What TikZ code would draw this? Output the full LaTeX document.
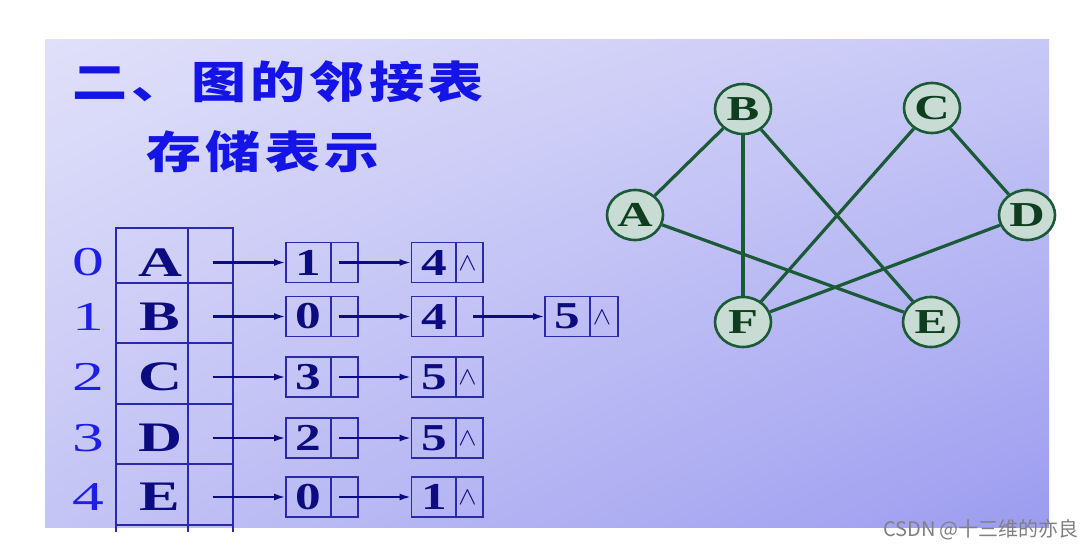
\documentclass[tikz,border=0pt]{standalone}
\usepackage{fontspec}
\setmainfont{Liberation Serif}
\newfontfamily\cjk{Noto Sans CJK SC}
\newfontfamily\ttlf{Noto Sans CJK SC}[FakeStretch=1.25,LetterSpace=10]
\newfontfamily\idxf{Liberation Serif}[FakeStretch=1.55]
\newfontfamily\vtxf{Liberation Serif}[FakeStretch=1.45]
\newfontfamily\datf{Liberation Serif}[FakeStretch=1.35]
\newfontfamily\grf{Liberation Serif}[FakeStretch=1.4]
\usetikzlibrary{arrows.meta,shapes.geometric,shadings}
\definecolor{titleblue}{HTML}{1414E6}
\definecolor{idxblue}{HTML}{1E1EE6}
\definecolor{navy}{HTML}{0C0C80}
\definecolor{boxline}{HTML}{2A2AA8}
\definecolor{gfill}{HTML}{C8DCD4}
\definecolor{gline}{HTML}{1A5A36}
\definecolor{gtext}{HTML}{0E3E1E}
\definecolor{bgA}{HTML}{E0E0FA}
\definecolor{bgB}{HTML}{C8C8F6}
\definecolor{bgC}{HTML}{C4C4F5}
\definecolor{bgD}{HTML}{9C9CF0}
\begin{document}
\begin{tikzpicture}[x=1pt,y=-1pt,
  vcell/.style={draw=boxline, line width=1.6pt, inner sep=0pt, outer sep=0pt},
  cell/.style={vcell, minimum height=40pt, font=\datf\bfseries\fontsize{38}{38}\selectfont, text=navy},
  dcell/.style={cell, minimum width=45pt},
  pcell/.style={cell, minimum width=27pt},
  ptr/.style={draw=navy, line width=2.3pt, -{Latex[length=12pt,width=7pt]}},
  vert/.style={inner sep=0pt, font=\vtxf\bfseries\fontsize{42}{42}\selectfont, text=navy},
  idx/.style={inner sep=0pt, font=\idxf\fontsize{41}{41}\selectfont, text=idxblue},
  nil/.style={inner sep=0pt, font=\fontsize{40}{40}\selectfont, text=navy, xscale=1.1},
  ttl/.style={anchor=west, inner sep=0pt, font=\ttlf\bfseries\fontsize{44}{44}\selectfont, text=titleblue},
  gnode/.style={ellipse, draw=gline, fill=gfill, line width=2.6pt, minimum width=56pt, minimum height=50pt, inner sep=0pt, font=\grf\bfseries\fontsize{35}{35}\selectfont, text=gtext},
  gedge/.style={draw=gline, line width=3.2pt},
]
\useasboundingbox (0,0) rectangle (1092,551);
\fill[white] (0,0) rectangle (1092,551);
\shade[upper left=bgA, upper right=bgB, lower left=bgC, lower right=bgD] (45,40) rectangle (1049,527);

% title
\node[ttl] (t1) at (72,82) {二、图的邻接表};
\node[ttl] (t2) at (146,152) {存储表示};

% vertex table
\foreach \r/\top/\bot/\yy/\L in {0/228/283/262.5/A,1/283/343/316.5/B,2/343/404/377/C,3/404/464/438/D,4/464/525/497/E} {
  \node[vcell, minimum width=72pt, minimum height=\bot-\top] (L\r) at (152,{(\top+\bot)/2}) {};
  \node[vcell, minimum width=45pt, minimum height=\bot-\top] (P\r) at (210.5,{(\top+\bot)/2}) {};
  \node[vert] (a\r) at (160,\yy) {\L};
  \node[idx] (i\r) at (88,\yy) {\r};
}
\draw[boxline, line width=1.6pt] (L4.south west) -- ++(0,7) (P4.south west) -- ++(0,7) (P4.south east) -- ++(0,7);

% adjacency lists
\foreach \r/\yy/\a/\b in {0/262.5/1/4,2/377/3/5,3/438/2/5,4/497/0/1} {
  \node[dcell] (d\r1) at (308.5,\yy) {\a};
  \node[pcell] (p\r1) at (344.5,\yy) {};
  \node[dcell] (d\r2) at (434,\yy) {\b};
  \node[pcell] (p\r2) at (469.5,\yy) {};
  \node[nil] (n\r) at ([xshift=-2pt,yshift=-1pt]p\r2.center) {$\wedge$};
  \draw[ptr] ([xshift=2pt]P\r.center |- d\r1.west) -- (d\r1.west);
  \draw[ptr] ([xshift=-6pt]p\r1.center) -- (d\r2.west);
}
\node[dcell] (d11) at (308.5,316.5) {0};
\node[pcell] (p11) at (344.5,316.5) {};
\node[dcell] (d12) at (434,316.5) {4};
\node[pcell] (p12) at (469.5,316.5) {};
\node[dcell] (d13) at (567.5,316.5) {5};
\node[pcell, minimum width=28pt] (p13) at (604,316.5) {};
\node[nil] (n1) at ([xshift=-2pt,yshift=-1pt]p13.center) {$\wedge$};
\draw[ptr] ([xshift=2pt]P1.center |- d11.west) -- (d11.west);
\draw[ptr] ([xshift=-6pt]p11.center) -- (d12.west);
\draw[ptr] ([xshift=3pt]p12.center) -- (d13.west);

% graph
\node[gnode] (A) at (635,215) {A};
\node[gnode] (B) at (743,109) {B};
\node[gnode] (C) at (932,108) {C};
\node[gnode] (D) at (1027,215) {D};
\node[gnode] (F) at (743,322) {F};
\node[gnode] (E) at (931,322) {E};
\draw[gedge] (A) -- (B);
\draw[gedge] (B) -- (F);
\draw[gedge] (B) -- (E);
\draw[gedge] (C) -- (F);
\draw[gedge] (C) -- (D);
\draw[gedge] (D) -- (F);
\draw[gedge] (A) -- (E);

% watermark
\node[inner sep=0pt, font=\cjk\fontsize{20}{20}\selectfont, text=gray] (wm) at (981,530) {CSDN @十三维的亦良};
\end{tikzpicture}
\end{document}
